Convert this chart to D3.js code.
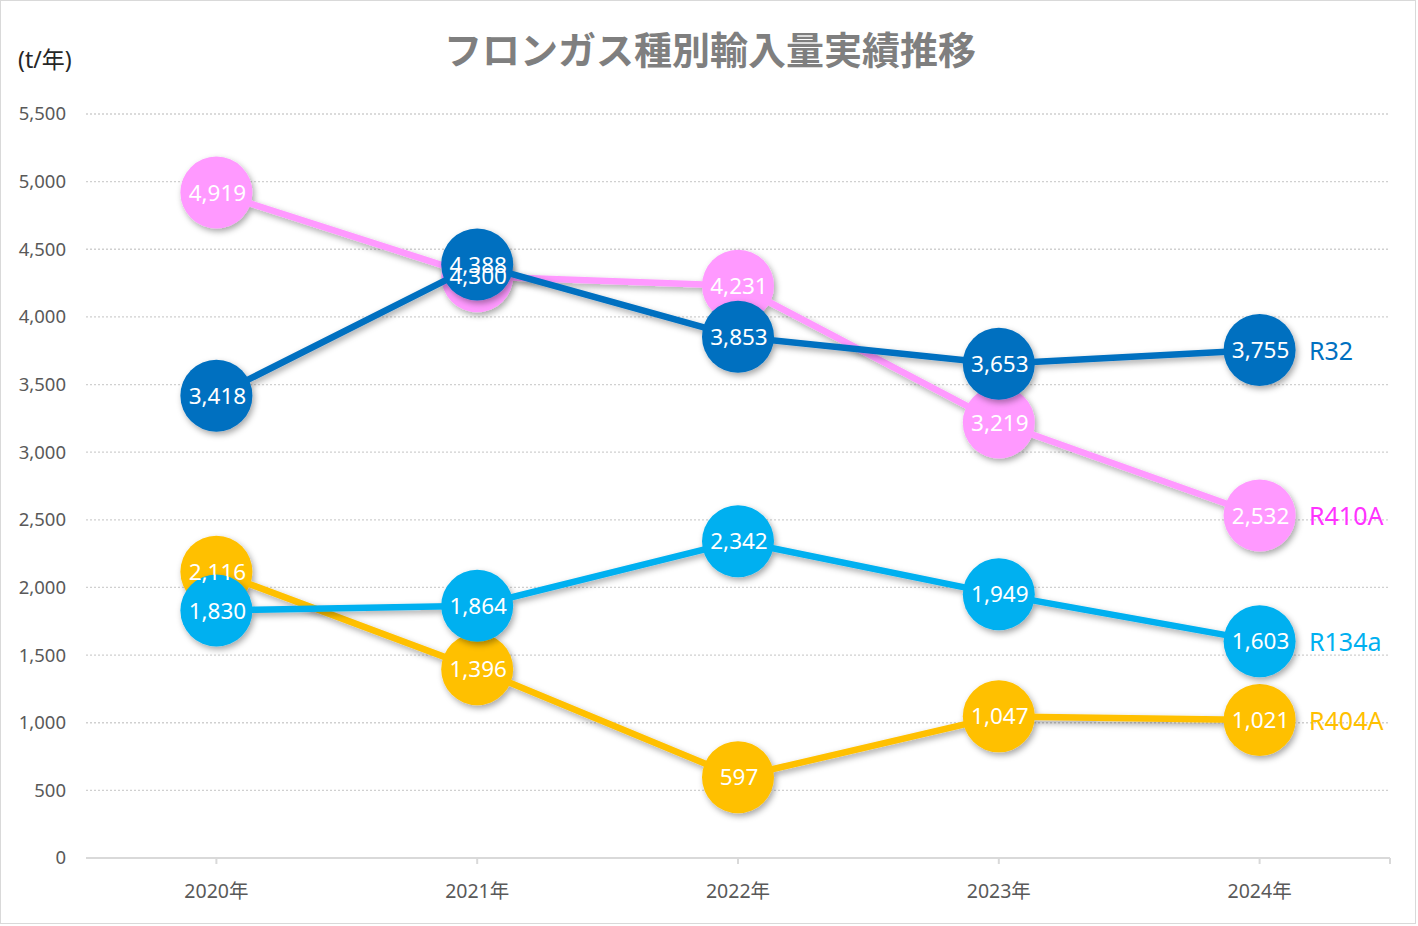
<!DOCTYPE html>
<html>
<head>
<meta charset="utf-8">
<script src="https://cdn.jsdelivr.net/npm/d3@7"></script>
<style>
  body { margin: 0; background: #fff; }
  svg text { font-family: "Noto Sans", "Noto Sans CJK JP", sans-serif; }
</style>
</head>
<body>
<div id="chart"></div>
<script>
// data
var years = ["2020年", "2021年", "2022年", "2023年", "2024年"];
var r32   = [3418, 4388, 3853, 3653, 3755];
var r410a = [4919, 4300, 4231, 3219, 2532];
var r134a = [1830, 1864, 2342, 1949, 1603];
var r404a = [2116, 1396, 597, 1047, 1021];
var yTicks = [0, 500, 1000, 1500, 2000, 2500, 3000, 3500, 4000, 4500, 5000, 5500];

// drawing order, last one ends up on top
var series = [
  {name: "R404A", values: r404a, color: "#FFC000", text: "#FFC000"},
  {name: "R134a", values: r134a, color: "#00B0F0", text: "#00B0F0"},
  {name: "R410A", values: r410a, color: "#FF99FF", text: "#FF33FF"},
  {name: "R32",   values: r32,   color: "#0070C0", text: "#0070C0"}
];

function draw() {
  "use strict"
  var W = 1418, H = 926,
      left = 86, right = 1390, top = 114, bottom = 858;

  var svg = d3.select("#chart").append("svg")
    .attr("width", W)
    .attr("height", H);

  var defs = svg.append("defs");
  defs.append("filter")
      .attr("id", "shadow")
      .attr("x", "-20%").attr("y", "-20%")
      .attr("width", "140%").attr("height", "140%")
    .append("feDropShadow")
      .attr("dx", 2).attr("dy", 3)
      .attr("stdDeviation", 3)
      .attr("flood-color", "#000")
      .attr("flood-opacity", 0.35);

  // outer frame
  svg.append("rect")
    .attr("x", 0.5).attr("y", 0.5)
    .attr("width", W - 3).attr("height", H - 3)
    .attr("fill", "#fff")
    .attr("stroke", "#d9d9d9");

  var x = d3.scalePoint().domain(years).range([left, right]).padding(0.5);
  var y = d3.scaleLinear().domain([0, 5500]).range([bottom, top]);

  // grid lines
  svg.append("g").selectAll("line")
    .data(yTicks.filter(function(d){ return d > 0 }))
    .enter().append("line")
      .attr("x1", left).attr("x2", right)
      .attr("y1", function(d){ return y(d) })
      .attr("y2", function(d){ return y(d) })
      .attr("stroke", "#d0d0d0")
      .attr("stroke-width", 1.3)
      .attr("stroke-dasharray", "2,2");

  // y labels
  var yAxis = d3.axisLeft(y).tickValues(yTicks).tickFormat(d3.format(",")).tickSize(0).tickPadding(20);
  var gy = svg.append("g").attr("transform", "translate(" + left + ",0)").call(yAxis);
  gy.select(".domain").remove();
  gy.selectAll("text")
    .attr("fill", "#595959")
    .style("font-size", "18.5px");

  // x axis
  var gx = svg.append("g").attr("transform", "translate(0," + bottom + ")");
  gx.append("line")
    .attr("x1", left).attr("x2", right)
    .attr("stroke", "#d9d9d9").attr("stroke-width", 2);
  gx.selectAll("line.tick")
    .data(years.map(function(d){ return x(d) }).concat([right]))
    .enter().append("line")
      .attr("class", "tick")
      .attr("x1", function(d){ return d }).attr("x2", function(d){ return d })
      .attr("y1", 0).attr("y2", 6)
      .attr("stroke", "#d9d9d9").attr("stroke-width", 2);
  gx.selectAll("text")
    .data(years)
    .enter().append("text")
      .attr("x", function(d){ return x(d) })
      .attr("y", 40)
      .attr("text-anchor", "middle")
      .attr("fill", "#595959")
      .style("font-size", "19.5px")
      .text(function(d){ return d });

  // title and unit
  svg.append("text")
    .attr("x", 710).attr("y", 64)
    .attr("text-anchor", "middle")
    .attr("fill", "#7f7f7f")
    .style("font-family", "'Noto Sans CJK JP', sans-serif")
    .style("font-weight", "bold")
    .style("font-size", "38px")
    .text("フロンガス種別輸入量実績推移");

  svg.append("text")
    .attr("x", 18).attr("y", 68)
    .attr("fill", "#262626")
    .style("font-size", "23px")
    .text("(t/年)");

  var line = d3.line()
    .x(function(d, i){ return x(years[i]) })
    .y(function(d){ return y(d) });

  var groups = svg.selectAll("g.series")
    .data(series)
    .enter().append("g")
      .attr("class", "series")
      .attr("filter", "url(#shadow)");

  groups.append("path")
    .attr("d", function(d){ return line(d.values) })
    .attr("fill", "none")
    .attr("stroke", function(d){ return d.color })
    .attr("stroke-width", 6.5)
    .attr("stroke-linejoin", "round");

  groups.selectAll("circle")
    .data(function(d){ return d.values.map(function(v, i){ return {v: v, i: i, c: d.color} }) })
    .enter().append("circle")
      .attr("cx", function(d){ return x(years[d.i]) })
      .attr("cy", function(d){ return y(d.v) })
      .attr("r", 36)
      .attr("fill", function(d){ return d.c });

  // value labels on top of all markers
  var lab = svg.append("g");
  series.forEach(function(s){
    lab.selectAll(null)
      .data(s.values)
      .enter().append("text")
        .attr("x", function(d, i){ return x(years[i]) + 1 })
        .attr("y", function(d){ return y(d) })
        .attr("dy", "0.36em")
        .attr("text-anchor", "middle")
        .attr("fill", "#fff")
        .style("font-size", "22.5px")
        .text(function(d){ return d3.format(",")(d) });
  });

  // series names at the right end
  svg.append("g").selectAll("text")
    .data(series)
    .enter().append("text")
      .attr("x", 1309)
      .attr("y", function(d){ return y(d.values[d.values.length - 1]) + 1 })
      .attr("dy", "0.36em")
      .attr("fill", function(d){ return d.text })
      .style("font-size", "25px")
      .text(function(d){ return d.name });
}

draw();
</script>
</body>
</html>
